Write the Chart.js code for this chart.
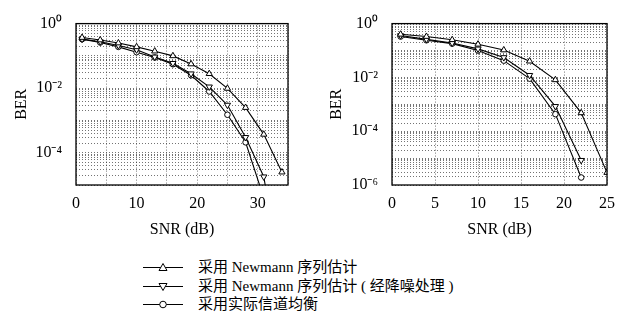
<!DOCTYPE html>
<html>
<head>
<meta charset="utf-8">
<script src="https://cdn.jsdelivr.net/npm/chart.js@4"></script>
<style>
  body { margin: 0; background: #fff; width: 630px; height: 320px; position: relative; overflow: hidden; }
  canvas { position: absolute; top: 0; }
  #leftChart { left: 0; }
  #rightChart { left: 315px; }
  .row { position: absolute; left: 143px; height: 19px; font: 15px "Liberation Serif", "Noto Sans CJK SC", serif; color: #000; white-space: nowrap; }
  .row svg { position: absolute; left: 0; top: 0; }
  .row span { position: absolute; left: 55px; top: 0; line-height: 19px; }
</style>
</head>
<body>
<canvas id="leftChart" width="310" height="245"></canvas>
<canvas id="rightChart" width="315" height="245"></canvas>
<div id="legend"></div>
<script>
// series names (legend)
const seriesNames = ['采用 Newmann 序列估计', '采用 Newmann 序列估计 ( 经降噪处理 )', '采用实际信道均衡'];

// left panel
const snrLeft = [1, 4, 7, 10, 13, 16, 19, 22, 25, 28, 31, 34];
const berLeftNewmann  = [0.37, 0.31, 0.25, 0.19, 0.14, 0.10, 0.056, 0.028, 0.0098, 0.0025, 3.7e-4, 2.5e-5];
const berLeftDenoised = [0.33, 0.275, 0.21, 0.155, 0.093, 0.059, 0.028, 0.011, 0.003, 3.0e-4, 1.8e-5, 1e-8];
const berLeftActual   = [0.33, 0.26, 0.19, 0.13, 0.089, 0.055, 0.025, 0.0079, 0.0015, 2.1e-4, 4e-6, 1e-9];
const xTicksLeft = [0, 10, 20, 30];
const yTicksLeft = [0, -2, -4];

// right panel
const snrRight = [1, 4, 7, 10, 13, 16, 19, 22, 25];
const berRightNewmann  = [0.40, 0.33, 0.25, 0.17, 0.104, 0.040, 0.0081, 4.8e-4, 2.9e-6];
const berRightDenoised = [0.36, 0.26, 0.19, 0.115, 0.055, 0.012, 8.4e-4, 8.3e-6];
const berRightActual   = [0.33, 0.24, 0.18, 0.10, 0.042, 0.009, 4.3e-4, 1.9e-6];
const xTicksRight = [0, 5, 10, 15, 20, 25];
const yTicksRight = [0, -2, -4, -6];

const serif = '"Liberation Serif", serif';
const sup = { '0': '⁰', '1': '¹', '2': '²', '3': '³', '4': '⁴', '5': '⁵', '6': '⁶', '-': '⁻' };
const powLabel = e => '10' + String(e).split('').map(c => sup[c]).join('');

// box around the plot area
const frame = {
    id: 'frame',
    afterDraw(chart) {
        const a = chart.chartArea, c = chart.ctx;
        c.save();
        c.strokeStyle = '#000';
        c.lineWidth = 1.3;
        c.strokeRect(a.left, a.top, a.right - a.left, a.bottom - a.top);
        c.restore();
    }
};

function dataset(label, x, y, rotation, style) {
    return {
        label: label,
        data: x.slice(0, y.length).map((v, i) => ({ x: v, y: y[i] })),
        borderColor: '#000',
        borderWidth: 1.1,
        pointStyle: style,
        pointRotation: rotation,
        pointRadius: style === 'circle' ? 2.8 : 3.6,
        pointBorderWidth: 1,
        pointBorderColor: '#000',
        pointBackgroundColor: '#fff',
        fill: false,
        tension: 0
    };
}

function makeChart(canvasId, snr, series, xMax, xLabels, minExp, yLabels, yWidth, padRight) {
    const ctx = document.getElementById(canvasId);
    new Chart(ctx, {
        type: 'line',
        data: {
            datasets: [
                dataset(seriesNames[0], snr, series[0], 0, 'triangle'),
                dataset(seriesNames[1], snr, series[1], 180, 'triangle'),
                dataset(seriesNames[2], snr, series[2], 0, 'circle')
            ]
        },
        options: {
            responsive: false,
            animation: false,
            layout: { padding: { top: 17, right: padRight, bottom: 0, left: 0 } },
            plugins: { legend: { display: false }, tooltip: { enabled: false } },
            scales: {
                x: {
                    type: 'linear',
                    min: 0,
                    max: xMax,
                    afterBuildTicks: s => {
                        const t = [];
                        for (let v = 0; v <= xMax; v += 5) t.push({ value: v });
                        s.ticks = t;
                    },
                    afterFit: s => { s.height = 60; },
                    grid: { color: 'rgba(0,0,0,0.55)', lineWidth: 1, drawTicks: false },
                    border: { display: false, dash: [1, 2] },
                    ticks: {
                        autoSkip: false,
                        maxRotation: 0,
                        padding: 9,
                        color: '#000',
                        font: { family: serif, size: 16 },
                        callback: v => xLabels.includes(v) ? String(v) : ''
                    },
                    title: {
                        display: true,
                        text: 'SNR (dB)',
                        color: '#000',
                        font: { family: serif, size: 16 },
                        padding: { top: 0, bottom: 6 }
                    }
                },
                y: {
                    type: 'logarithmic',
                    min: Math.pow(10, minExp),
                    max: 1,
                    afterBuildTicks: s => {
                        const t = [];
                        for (let e = minExp; e < 0; e++) {
                            for (let k = 1; k < 10; k++) t.push({ value: k * Math.pow(10, e) });
                        }
                        t.push({ value: 1 });
                        s.ticks = t;
                    },
                    afterFit: s => { s.width = yWidth; },
                    grid: { color: 'rgba(0,0,0,0.55)', lineWidth: 1, drawTicks: false },
                    border: { display: false, dash: [1, 2] },
                    ticks: {
                        autoSkip: false,
                        padding: 14,
                        color: '#000',
                        font: { family: serif, size: 16 },
                        callback: v => {
                            const e = Math.log10(v);
                            const r = Math.round(e);
                            return Math.abs(e - r) < 1e-6 && yLabels.includes(r) ? powLabel(r) : '';
                        }
                    },
                    title: {
                        display: true,
                        text: 'BER',
                        color: '#000',
                        font: { family: serif, size: 16 },
                        padding: { top: 12, bottom: 0 }
                    }
                }
            }
        },
        plugins: [frame]
    });
}

makeChart('leftChart', snrLeft, [berLeftNewmann, berLeftDenoised, berLeftActual], 35, xTicksLeft, -5, yTicksLeft, 76, 22);
makeChart('rightChart', snrRight, [berRightNewmann, berRightDenoised, berRightActual], 25, xTicksRight, -6, yTicksRight, 77, 23);

// legend below both panels
const markers = [
    '<polygon points="20,5.5 24,12.5 16,12.5" fill="#fff" stroke="#000" stroke-width="1"/>',
    '<polygon points="20,13.5 24,6.5 16,6.5" fill="#fff" stroke="#000" stroke-width="1"/>',
    '<circle cx="20" cy="9.5" r="3.3" fill="#fff" stroke="#000" stroke-width="1"/>'
];
const rowTops = [258, 277, 295];
const legend = document.getElementById('legend');
seriesNames.forEach((name, i) => {
    const row = document.createElement('div');
    row.className = 'row';
    row.style.top = rowTops[i] + 'px';
    row.innerHTML = '<svg width="42" height="19"><line x1="0" y1="9.5" x2="40" y2="9.5" stroke="#000" stroke-width="1.1"/>' +
        markers[i] + '</svg><span>' + name + '</span>';
    legend.appendChild(row);
});
</script>
</body>
</html>
